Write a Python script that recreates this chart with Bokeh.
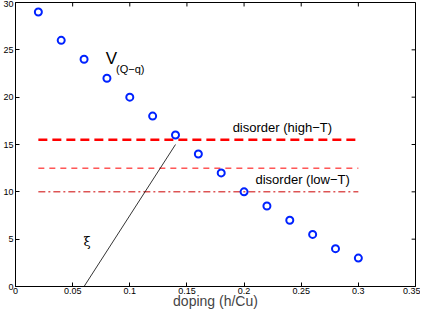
from bokeh.plotting import figure
from bokeh.models import FixedTicker, Label, Range1d
from bokeh.embed import file_html
from bokeh.resources import INLINE

# data
doping = [0.02, 0.04, 0.06, 0.08, 0.10, 0.12, 0.14, 0.16, 0.18, 0.20, 0.22, 0.24, 0.26, 0.28, 0.30]
v_qq = [29, 26, 24, 22, 20, 18, 16, 14, 12, 10, 8.5, 7, 5.5, 4, 3]
disorder_x = [0.02, 0.30]
disorder_high = 15.5
disorder_mid = 12.5
disorder_low = 10
xi_x = [0.06, 0.14]
xi_y = [0, 15]
x_ticks = [0, 0.05, 0.1, 0.15, 0.2, 0.25, 0.3, 0.35]
x_tick_labels = ["0", "0.05", "0.1", "0.15", "0.2", "0.25", "0.3", "0.35"]
y_ticks = [0, 5, 10, 15, 20, 25, 30]
y_tick_labels = ["0", "5", "10", "15", "20", "25", "30"]
x_title = "doping (h/Cu)"

FONT = "Liberation Sans"
XMIN, XMAX = 0, 0.35
YMIN, YMAX = 0, 30

p = figure(width=420, height=311, output_backend="svg", toolbar_location=None,
           x_range=Range1d(XMIN, XMAX), y_range=Range1d(YMIN, YMAX),
           min_border_left=6, min_border_right=5, min_border_top=2, min_border_bottom=0)
p.grid.visible = False
p.outline_line_color = "black"
p.background_fill_color = "white"
p.border_fill_color = "white"

for ax in (p.xaxis[0], p.yaxis[0]):
    ax.major_tick_in = 4
    ax.major_tick_out = 0
    ax.minor_tick_line_color = None
    ax.axis_line_color = "black"
    ax.major_tick_line_color = "black"
    ax.major_label_text_font = FONT
    ax.major_label_text_font_size = "9px"
    ax.major_label_text_color = "black"
    ax.major_label_standoff = 2

p.xaxis.major_label_standoff = 1
p.xaxis.ticker = FixedTicker(ticks=x_ticks)
p.xaxis.major_label_overrides = dict(zip(x_ticks, x_tick_labels))
p.yaxis.ticker = FixedTicker(ticks=y_ticks)
p.yaxis.major_label_overrides = dict(zip(y_ticks, y_tick_labels))
p.xaxis.axis_label = x_title
p.xaxis.axis_label_text_font = FONT
p.xaxis.axis_label_text_font_size = "14px"
p.xaxis.axis_label_text_font_style = "normal"
p.xaxis.axis_label_text_line_height = 1.0
p.xaxis.major_label_text_line_height = 1.0
p.xaxis.axis_label_standoff = -4

# inward ticks on the top and right edges of the box
tx = 0.0034  # ~4px in x data units
ty = 0.42    # ~4px in y data units
p.segment(x0=x_ticks, y0=[YMAX] * len(x_ticks), x1=x_ticks, y1=[YMAX - ty] * len(x_ticks),
          line_color="black", line_width=1)
p.segment(x0=[XMAX] * len(y_ticks), y0=y_ticks, x1=[XMAX - tx] * len(y_ticks), y1=y_ticks,
          line_color="black", line_width=1)

# disorder lines
p.line(disorder_x, [disorder_high] * 2, line_color="red", line_width=2.5, line_dash="9 5")
p.line(disorder_x, [disorder_mid] * 2, line_color="red", line_width=1, line_dash="6 5")
p.line(disorder_x, [disorder_low] * 2, line_color="#cc0000", line_width=1, line_dash="7 3 2 3")

# xi line
p.line(xi_x, xi_y, line_color="black", line_width=0.8)

# V(Q-q) points
p.scatter(doping, v_qq, marker="circle", size=7, fill_color=None,
          line_color="#0022ff", line_width=2)

# labels
p.add_layout(Label(x=0.079, y=23.1, text="V", text_font=FONT, text_font_size="17px",
                   text_color="black"))
p.add_layout(Label(x=0.088, y=22.3, text="(Q\u2212q)", text_font=FONT, text_font_size="11px",
                   text_color="black"))
p.add_layout(Label(x=0.190, y=16.0, text="disorder (high\u2212T)", text_font=FONT,
                   text_font_size="13px", text_color="black"))
p.add_layout(Label(x=0.210, y=10.5, text="disorder (low\u2212T)", text_font=FONT,
                   text_font_size="13px", text_color="black"))
p.add_layout(Label(x=0.0595, y=4.0, text="\u03be", text_font="DejaVu Serif",
                   text_font_size="13px", text_color="black"))

open("out.html", "w").write(file_html(p, INLINE))
